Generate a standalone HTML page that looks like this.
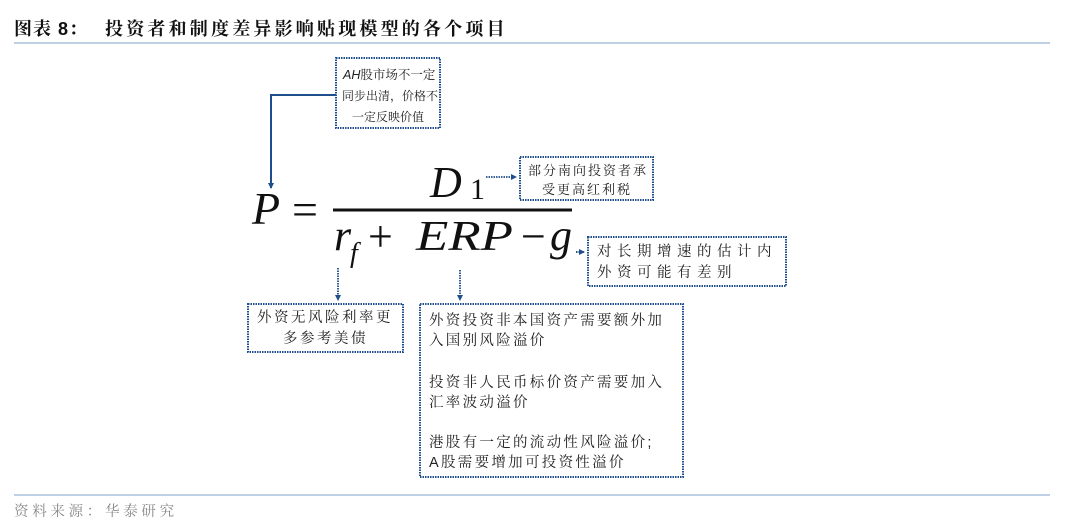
<!DOCTYPE html>
<html><head><meta charset="utf-8"><style>
html,body{margin:0;padding:0;background:#fff;width:1080px;height:531px;overflow:hidden}
svg{display:block}
.cjk{font-family:"Liberation Sans","Noto Serif CJK SC","Noto Sans CJK SC",sans-serif}
.m{font-family:"Liberation Serif",serif;font-style:italic}
.r{font-family:"Liberation Serif",serif}
</style></head><body>
<svg width="1080" height="531" viewBox="0 0 1080 531" xmlns="http://www.w3.org/2000/svg">
<defs>
<marker id="a" markerWidth="6" markerHeight="6" refX="5" refY="3" orient="auto" markerUnits="userSpaceOnUse"><path d="M0,0L6,3L0,6z" fill="#1f4e8c"/></marker>
</defs>
<text x="14" y="35" class="cjk" font-size="18" font-weight="bold" fill="#111" letter-spacing="1">图表 8：</text>
<text x="105" y="35" class="cjk" font-size="18" font-weight="bold" fill="#111" letter-spacing="3.2">投资者和制度差异影响贴现模型的各个项目</text>
<line x1="14" y1="43" x2="1050" y2="43" stroke="#a9c1dc" stroke-width="1.5"/>

<g fill="none" stroke="#1f4e8c" stroke-width="2" stroke-dasharray="1.5,1">
<rect x="336" y="58" width="104" height="70"/>
<rect x="520" y="157" width="133" height="43"/>
<rect x="588" y="237" width="198" height="49"/>
<rect x="248" y="304" width="155" height="48"/>
<rect x="420" y="304" width="263" height="173"/>
</g>
<g class="cjk" fill="#222">
<text x="343" y="79" font-size="12.5"><tspan font-style="italic">AH</tspan>股市场不一定</text>
<text x="342" y="100" font-size="12">同步出清，价格不</text>
<text x="352" y="121" font-size="12">一定反映价值</text>
<text x="528" y="175" font-size="13" letter-spacing="2">部分南向投资者承</text>
<text x="542" y="194" font-size="13" letter-spacing="2">受更高红利税</text>
<text x="597" y="256" font-size="14.5" letter-spacing="5.5">对长期增速的估计内</text>
<text x="597" y="277" font-size="14.5" letter-spacing="5.5">外资可能有差别</text>
<text x="257" y="322" font-size="14.5" letter-spacing="2.5">外资无风险利率更</text>
<text x="283" y="343" font-size="14.5" letter-spacing="2.5">多参考美债</text>
</g>
<g class="cjk" font-size="14.5" fill="#222" letter-spacing="2.3">
<text x="429" y="325">外资投资非本国资产需要额外加</text>
<text x="429" y="345">入国别风险溢价</text>
<text x="429" y="387">投资非人民币标价资产需要加入</text>
<text x="429" y="407">汇率波动溢价</text>
<text x="429" y="447">港股有一定的流动性风险溢价;</text>
<text x="429" y="467">A股需要增加可投资性溢价</text>
</g>

<polyline points="336,95 271,95 271,188" fill="none" stroke="#1f4e8c" stroke-width="2" marker-end="url(#a)"/>
<g stroke="#1f4e8c" stroke-width="1.8" stroke-dasharray="1.5,1">
<line x1="486" y1="177" x2="516" y2="177" marker-end="url(#a)"/>
<line x1="576" y1="252" x2="584" y2="252" marker-end="url(#a)"/>
<line x1="576" y1="252" x2="584" y2="252"/>
<line x1="338" y1="268" x2="338" y2="300" marker-end="url(#a)"/>
<line x1="460" y1="270" x2="460" y2="300" marker-end="url(#a)"/>
</g>

<text x="252" y="224" class="m" font-size="46" fill="#111">P</text>
<text x="292" y="225" class="r" font-size="46" fill="#111">=</text>
<line x1="333" y1="210" x2="572" y2="210" stroke="#111" stroke-width="3"/>
<text x="430" y="197" class="m" font-size="44" fill="#111">D</text>
<text x="470" y="199" class="r" font-size="30" fill="#111">1</text>
<text x="334" y="250" class="m" font-size="44" fill="#111">r</text>
<text x="350" y="262" class="m" font-size="28" fill="#111">f</text>
<text x="368" y="251" class="r" font-size="44" fill="#111">+</text>
<text x="416" y="250" class="m" font-size="42" fill="#111" textLength="97" lengthAdjust="spacingAndGlyphs">ERP</text>
<text x="521" y="251" class="r" font-size="44" fill="#111">−</text>
<text x="550" y="250" class="m" font-size="44" fill="#111">g</text>

<line x1="14" y1="495" x2="1050" y2="495" stroke="#a9c1dc" stroke-width="1.5"/>
<text x="14" y="516" class="cjk" font-size="14.5" fill="#888" letter-spacing="3.7">资料来源：华泰研究</text>
</svg>
</body></html>
